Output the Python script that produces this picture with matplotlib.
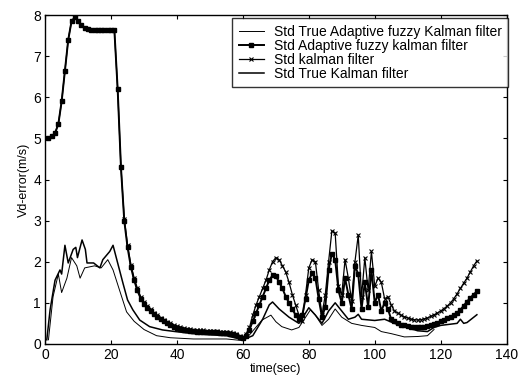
import matplotlib
matplotlib.use("Agg")
import matplotlib.pyplot as plt

plt.rcParams['font.family'] = ['Liberation Sans', 'DejaVu Sans']

# ---- data ----
t_main = list(range(1, 132))
af_vals = [5.0, 5.05, 5.13, 5.35, 5.9, 6.65, 7.4, 7.85, 7.95, 7.85,
           7.75, 7.7, 7.66, 7.65, 7.65, 7.65, 7.65, 7.65, 7.65, 7.65,
           7.64, 6.2, 4.3, 3.0, 2.35, 1.88, 1.55, 1.3, 1.1, 0.97,
           0.88, 0.8, 0.72, 0.66, 0.6, 0.55, 0.5, 0.46, 0.42, 0.39,
           0.37, 0.35, 0.33, 0.32, 0.31, 0.3, 0.3, 0.29, 0.29, 0.28,
           0.28, 0.28, 0.27, 0.27, 0.26, 0.25, 0.23, 0.21, 0.18, 0.15,
           0.2, 0.35, 0.55, 0.75, 0.95, 1.15, 1.35, 1.55, 1.67, 1.65,
           1.5, 1.35, 1.15, 1.0, 0.85, 0.7, 0.6, 0.7, 1.1, 1.55,
           1.72, 1.6, 1.1, 0.65, 0.9, 1.8, 2.2, 2.05, 1.3, 1.0,
           1.6, 1.2, 0.85, 1.9, 1.7, 0.85, 1.5, 0.9, 1.8, 1.0,
           1.2, 0.8, 1.0, 0.85, 0.6, 0.55, 0.5, 0.47, 0.45, 0.43,
           0.42, 0.41, 0.41, 0.41, 0.42, 0.44, 0.46, 0.49, 0.52, 0.55,
           0.58, 0.62, 0.66, 0.7, 0.76, 0.83, 0.93, 1.03, 1.12, 1.2,
           1.28]
kf_vals = [5.0, 5.05, 5.13, 5.35, 5.9, 6.65, 7.4, 7.85, 7.95, 7.85,
           7.75, 7.7, 7.66, 7.65, 7.65, 7.65, 7.65, 7.65, 7.65, 7.65,
           7.64, 6.2, 4.3, 3.05, 2.4, 1.93, 1.6, 1.35, 1.15, 1.02,
           0.92, 0.84, 0.76, 0.7, 0.64, 0.59, 0.54, 0.5, 0.46, 0.43,
           0.41, 0.39, 0.37, 0.36, 0.35, 0.34, 0.33, 0.33, 0.32, 0.32,
           0.31, 0.31, 0.3, 0.3, 0.29, 0.28, 0.26, 0.23, 0.2, 0.15,
           0.25, 0.4, 0.7, 0.95, 1.15, 1.35, 1.55, 1.8, 2.0, 2.1,
           2.05, 1.9, 1.75, 1.5, 1.2, 0.95, 0.7, 0.55, 1.2, 1.85,
           2.05, 2.0, 1.3, 0.7, 1.2, 2.0, 2.75, 2.7, 1.4, 1.2,
           2.05, 1.6, 1.05, 2.0, 2.65, 1.15, 2.1, 1.3, 2.25, 1.4,
           1.6, 1.5, 1.1, 1.15, 0.95, 0.8, 0.75, 0.7, 0.66, 0.63,
           0.6, 0.59, 0.58, 0.59, 0.61, 0.63, 0.67, 0.71, 0.75, 0.8,
           0.86, 0.92, 1.0, 1.1, 1.22, 1.35, 1.48, 1.6, 1.75, 1.9,
           2.02]

t_tk = [0.5, 1.5, 3, 4.5, 5, 6, 7, 8.5, 9.3, 9.8, 11.2, 12.2, 12.7, 14.7,
        16.6, 17.5, 19.6, 20.6, 22, 23.6, 25, 26.6, 28.7, 31.7, 35.6, 39.5,
        45, 50, 55, 60, 63, 66, 68, 69, 71, 74, 77, 79, 80, 82, 84, 86, 88,
        90, 92, 94, 95, 96, 100, 103, 106, 110, 113, 116, 118, 120, 123,
        125, 126, 127, 128, 131]
tk_vals = [0.1, 0.83, 1.55, 1.8, 1.7, 2.4, 1.97, 2.3, 2.35, 2.1, 2.53, 2.3,
           1.97, 1.97, 1.85, 2.05, 2.25, 2.4, 1.97, 1.48, 1.07, 0.83, 0.58,
           0.42, 0.34, 0.3, 0.25, 0.22, 0.2, 0.1, 0.2, 0.6, 0.95, 1.02, 0.85,
           0.65, 0.5, 0.75, 0.88, 0.7, 0.5, 0.8, 1.0, 0.8, 0.6, 0.65, 0.72,
           0.6, 0.57, 0.6, 0.5, 0.4, 0.32, 0.3, 0.4, 0.45, 0.48, 0.5, 0.6,
           0.5, 0.52, 0.71]

t_taf = [1, 2.4, 4, 5, 6.6, 8, 9.6, 10.6, 12, 15, 17, 19, 20.6, 22.6, 24.7,
         27, 30, 33.8, 38, 45, 50, 55, 60, 62, 65.8, 68.5, 70, 71.8, 74.8,
         77, 80.5, 82, 84, 86, 88, 90, 93, 96, 100, 102, 105, 109, 113, 116,
         118]
taf_vals = [0.1, 1.15, 1.7, 1.25, 1.6, 2.1, 1.9, 1.6, 1.85, 1.9, 1.85, 2.05,
            1.8, 1.3, 0.78, 0.55, 0.35, 0.2, 0.15, 0.12, 0.12, 0.12, 0.08,
            0.22, 0.58, 0.7, 0.54, 0.42, 0.34, 0.4, 0.83, 0.7, 0.45, 0.6,
            0.85, 0.65, 0.5, 0.45, 0.4, 0.3, 0.25, 0.17, 0.18, 0.2, 0.35]

labels = ["Std True Adaptive fuzzy Kalman filter",
          "Std Adaptive fuzzy kalman filter",
          "Std kalman filter",
          "Std True Kalman filter"]

fig = plt.figure(figsize=(5.19, 3.80), dpi=100)
ax = fig.add_axes([0.087, 0.095, 0.889, 0.865])

ax.plot(t_taf, taf_vals, color='black', lw=0.7, label=labels[0])
ax.plot(t_main, af_vals, color='black', lw=1.4, marker='s', ms=2.2,
        label=labels[1])
ax.plot(t_main, kf_vals, color='black', lw=0.9, marker='x', ms=3.5,
        mew=0.8, label=labels[2])
ax.plot(t_tk, tk_vals, color='black', lw=1.1, label=labels[3])

ax.set_xlim(0, 140)
ax.set_ylim(0, 8)
ax.set_xticks(range(0, 141, 20))
ax.set_yticks(range(0, 9))
ax.tick_params(direction='in', top=True, right=True, length=3,
               labelsize=10, pad=3)
for s in ax.spines.values():
    s.set_linewidth(1.0)

ax.set_xlabel("time(sec)", fontsize=9, labelpad=1)
ax.set_ylabel("Vd-error(m/s)", fontsize=9, labelpad=2)

leg = ax.legend(loc='upper right', bbox_to_anchor=(1.004, 0.99),
                fontsize=10, frameon=True, fancybox=False,
                edgecolor='black', borderpad=0.45, labelspacing=0.0,
                handlelength=1.8, handletextpad=0.75, borderaxespad=0.0)
leg.get_frame().set_linewidth(1.0)

fig.savefig("out.png", dpi=100)
